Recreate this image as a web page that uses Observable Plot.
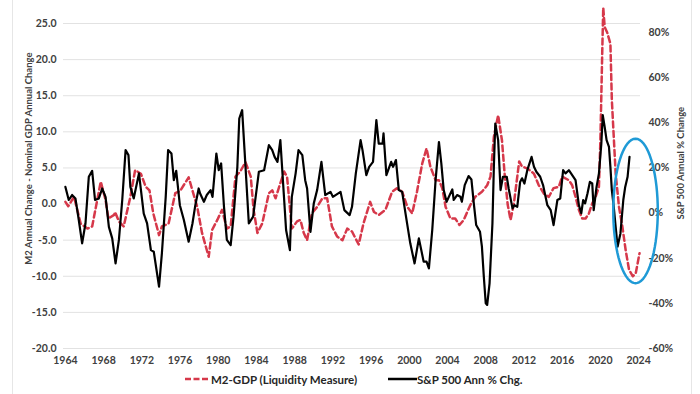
<!DOCTYPE html>
<html><head><meta charset="utf-8">
<script src="https://cdn.jsdelivr.net/npm/d3@7"></script>
<script src="https://cdn.jsdelivr.net/npm/@observablehq/plot@0.6"></script>
<style>
body{margin:0;background:#fff;font-family:Lato,"Open Sans",sans-serif;}
#wrap{position:relative;width:700px;height:394px;overflow:hidden;}
#legend{position:absolute;top:369px;left:0;width:700px;height:20px;font-size:11.5px;font-weight:700;color:#262626;}
#legend .it{position:absolute;top:0;height:20px;display:flex;align-items:center;white-space:nowrap;}
.vl{position:absolute;top:0;width:1px;height:394px;background:#e6e6e6;}
</style></head><body>
<div id="wrap"><div id="chart"></div><div id="legend"></div><div class="vl" style="left:12px"></div><div class="vl" style="left:691px"></div></div>
<script>
// M2-GDP (left axis, percentage points)
const redYears = [1964.0,1964.3,1964.9,1965.6,1966.3,1966.8,1967.7,1968.2,1968.5,1969.1,1969.2,1969.6,1970.1,1970.8,1971.3,1971.9,1972.4,1972.8,1973.2,1973.8,1974.1,1974.8,1975.5,1976.0,1976.9,1977.8,1978.3,1979.0,1979.35,1979.9,1980.4,1980.9,1981.3,1981.8,1982.3,1982.85,1983.4,1983.7,1984.1,1984.6,1985.3,1985.65,1986.0,1986.5,1986.9,1987.2,1987.7,1988.25,1988.6,1988.95,1989.3,1989.8,1990.35,1990.9,1991.4,1991.9,1992.45,1993.0,1993.5,1994.0,1994.7,1995.2,1995.9,1996.3,1996.8,1997.5,1998.2,1998.7,1999.25,1999.8,2000.3,2000.8,2001.35,2001.8,2002.2,2002.75,2003.1,2003.45,2003.8,2004.3,2004.8,2005.25,2005.7,2006.4,2006.9,2007.6,2008.15,2008.5,2008.85,2009.3,2009.7,2010.0,2010.3,2010.6,2010.95,2011.5,2011.8,2012.4,2013.05,2013.55,2014.1,2014.6,2015.1,2015.65,2016.0,2016.7,2017.05,2017.4,2017.75,2018.1,2018.45,2018.8,2019.15,2019.5,2019.85,2020.0,2020.2,2020.3,2020.45,2020.7,2021.05,2021.2,2021.6,2021.95,2022.3,2022.65,2023.0,2023.4,2023.7,2024.1];
const redValues = [0.3,-0.3,1.0,-2.7,-3.4,-3.1,3.1,0.6,-2.0,-1.5,-1.1,-2.4,-3.1,1.0,4.7,4.2,2.4,1.9,-1.3,-4.3,-3.1,-2.7,1.5,1.8,3.7,-0.4,-4.0,-7.3,-3.6,-2.2,-0.8,-3.4,-3.1,3.8,4.5,5.8,3.8,-0.8,-4.0,-2.7,1.5,1.9,0.8,2.9,4.5,3.8,-3.4,-2.4,-2.2,-4.0,-5.0,-1.3,-0.4,0.8,0.8,-3.1,-4.5,-5.0,-3.4,-3.8,-5.6,-2.7,0.3,-1.1,-1.5,-0.8,1.7,2.2,1.7,-0.4,-1.3,1.7,5.6,7.7,5.2,3.3,3.3,2.2,-0.4,-2.0,-2.0,-2.9,-2.2,-0.1,1.0,1.7,2.6,3.8,9.3,12.3,8.8,3.8,-0.1,-2.2,0.1,5.9,5.2,4.9,4.2,2.6,1.4,1.0,2.2,2.4,3.8,3.3,2.6,1.0,-0.8,-2.0,-2.0,-1.3,0.1,1.0,2.4,8.8,21.3,27.2,24.5,23.8,22.2,14.4,4.2,-0.4,-3.1,-6.4,-9.1,-10.0,-9.6,-6.8];
// S&P 500 annual % change (right axis, %)
const spxYears = [1964.0,1964.35,1964.7,1965.05,1965.4,1965.75,1966.1,1966.45,1966.8,1967.1,1967.5,1967.85,1968.2,1968.55,1968.9,1969.25,1969.6,1969.95,1970.3,1970.6,1970.8,1971.15,1971.7,1972.2,1972.55,1972.95,1973.25,1973.8,1974.1,1974.5,1974.75,1975.1,1975.35,1975.6,1975.98,1976.4,1976.9,1977.3,1977.6,1977.95,1978.1,1978.5,1978.8,1979.2,1979.4,1979.8,1980.05,1980.3,1980.6,1980.9,1981.3,1981.6,1982.0,1982.2,1982.5,1982.75,1983.2,1983.65,1984.25,1984.8,1985.3,1985.65,1985.9,1986.2,1986.5,1986.9,1987.1,1987.5,1987.7,1988.1,1988.4,1988.8,1989.1,1989.3,1989.65,1990.0,1990.35,1990.8,1991.2,1991.75,1992.0,1992.8,1993.2,1993.75,1994.0,1994.4,1994.9,1995.1,1995.5,1995.8,1996.2,1996.55,1996.8,1997.2,1997.3,1997.6,1998.1,1998.3,1998.6,1998.9,1999.25,1999.6,2000.1,2000.55,2001.0,2001.5,2001.8,2002.05,2002.4,2002.75,2003.1,2003.35,2003.6,2003.9,2004.5,2004.65,2005.0,2005.35,2005.5,2005.8,2006.2,2006.5,2006.75,2007.0,2007.4,2007.6,2007.8,2008.0,2008.15,2008.4,2008.7,2008.85,2009.0,2009.3,2009.55,2009.8,2010.2,2010.4,2010.8,2011.0,2011.3,2011.6,2011.8,2012.05,2012.35,2012.8,2013.05,2013.3,2013.7,2014.0,2014.45,2014.8,2015.1,2015.5,2015.8,2016.1,2016.35,2016.7,2017.05,2017.4,2017.75,2018.0,2018.2,2018.4,2018.65,2018.9,2019.15,2019.3,2019.6,2019.85,2020.1,2020.25,2020.45,2020.65,2020.9,2021.05,2021.2,2021.4,2021.6,2021.8,2022.1,2022.4,2022.6,2022.85,2023.05];
const spxValues = [11.6,5.8,8.0,6.5,-3.1,-13.4,-4.6,16.1,18.7,5.8,6.5,10.9,7.2,-6.1,-11.2,-22.3,-11.9,5.8,27.9,25.7,11.6,6.5,17.6,-0.2,-4.6,-16.4,-17.1,-32.6,-17.8,7.2,27.9,26.4,14.6,18.7,3.5,-3.1,-12.7,-4.6,3.5,10.9,8.7,5.0,8.0,10.2,7.2,26.4,19.0,22.0,2.8,-11.9,-14.2,-1.6,20.5,41.9,45.6,27.9,-4.6,-1.6,18.3,19.0,30.1,27.9,24.9,22.7,32.3,5.8,-7.5,-16.4,7.2,17.6,27.9,25.7,14.6,10.9,-8.3,4.3,10.2,22.7,8.0,9.4,7.2,9.4,1.3,-0.9,2.8,17.6,32.3,27.9,16.8,20.5,22.7,41.2,30.8,30.8,35.3,16.8,22.7,20.5,23.5,10.2,9.4,-0.1,-13.4,-22.3,-11.2,-21.5,-21.5,-24.5,-7.5,14.6,31.5,22.0,10.2,5.0,10.5,5.8,8.0,7.2,5.0,12.4,16.4,14.9,4.3,-5.3,-8.3,-14.9,-28.2,-40.0,-40.7,-31.1,-4.6,20.5,39.7,32.3,10.2,16.1,16.1,10.9,2.1,3.5,2.8,13.8,15.4,13.1,19.0,24.9,20.5,18.3,16.1,12.4,3.5,1.3,-5.3,5.8,6.5,19.0,17.6,19.0,16.8,14.6,3.5,-0.1,5.8,4.3,8.7,13.8,13.1,1.3,11.6,17.6,30.8,43.4,38.2,32.3,29.3,20.5,10.2,2.8,-6.1,-14.9,-9.0,5.8,11.6,16.1,24.9];

const xTicks = [1964,1968,1972,1976,1980,1984,1988,1992,1996,2000,2004,2008,2012,2016,2020,2024];
const leftTicks = [-20,-15,-10,-5,0,5,10,15,20,25];
const rightTicks = [-60,-40,-20,0,20,40,60,80];
const leftDomain = [-20, 25];
const rightDomain = [-60, 84];
const leftTitle = "M2 Annual Change - Nominal GDP Annual Change";
const rightTitle = "S&P 500 Annual % Change";
const redLabel = "M2-GDP (Liquidity Measure)";
const blackLabel = "S&P 500 Ann % Chg.";
// highlight ellipse (data units)
const ellipseCenter = {year: 2023.68, value: -0.95};
const ellipseRadius = {years: 2.33, value: 10.0};

const toLeft = d3.scaleLinear().domain(rightDomain).range(leftDomain);
const red = redYears.map((y, i) => ({year: y, value: redValues[i]}));
const spx = spxYears.map((y, i) => ({year: y, value: spxValues[i]}));
const ellipse = d3.range(0, 365, 5).map(a => ({
  year: ellipseCenter.year + ellipseRadius.years * Math.cos(a * Math.PI / 180),
  value: ellipseCenter.value + ellipseRadius.value * Math.sin(a * Math.PI / 180)
}));

const RED = "#d6384a";
const chart = Plot.plot({
  width: 700, height: 370,
  marginLeft: 63, marginRight: 60, marginTop: 23, marginBottom: 22,
  style: {fontFamily: "Lato, sans-serif", fontSize: "10.5px", fontWeight: 700, color: "#404040", background: "#fff"},
  x: {domain: [1963.8, 2024.2]},
  y: {domain: leftDomain},
  marks: [
    Plot.gridY(leftTicks, {stroke: "#e2e2e2", strokeOpacity: 1}),
    Plot.axisX(xTicks, {tickSize: 0, tickPadding: 8, tickFormat: d => String(d), label: null}),
    Plot.axisY(leftTicks, {tickSize: 0, tickPadding: 7, tickFormat: d => d.toFixed(1), label: null}),
    Plot.axisY(rightTicks.map(t => toLeft(t)), {anchor: "right", tickSize: 0, tickPadding: 8, tickFormat: d => Math.round(toLeft.invert(d)) + "%", label: null}),
    Plot.text([leftTitle], {frameAnchor: "left", y: () => 6.3, text: d => d, rotate: -90, dx: -35, textAnchor: "middle", fontSize: 9.5, fontWeight: 700, fill: "#404040"}),
    Plot.text([rightTitle], {frameAnchor: "right", y: () => 5.67, text: d => d, rotate: -90, dx: 40, textAnchor: "middle", fontSize: 9.5, fontWeight: 700, fill: "#404040"}),
    Plot.line(red, {x: "year", y: "value", stroke: RED, strokeWidth: 2.5, strokeDasharray: "6,3.5"}),
    Plot.line(spx, {x: "year", y: d => toLeft(d.value), stroke: "#000", strokeWidth: 2.2}),
    Plot.line(ellipse, {x: "year", y: "value", stroke: "#1f9ad6", strokeWidth: 2.5})
  ]
});
document.getElementById("chart").appendChild(chart);

document.getElementById("legend").innerHTML =
  `<div class="it" style="left:185px"><svg width="23" height="4"><line x1="0" y1="2" x2="23" y2="2" stroke="${RED}" stroke-width="2.5" stroke-dasharray="6,2.5"/></svg></div>` +
  `<div class="it" style="left:211px">${redLabel}</div>` +
  `<div class="it" style="left:388px"><svg width="29" height="4"><line x1="0" y1="2" x2="29" y2="2" stroke="#000" stroke-width="2.5"/></svg></div>` +
  `<div class="it" style="left:417px">${blackLabel}</div>`;
</script></body></html>
